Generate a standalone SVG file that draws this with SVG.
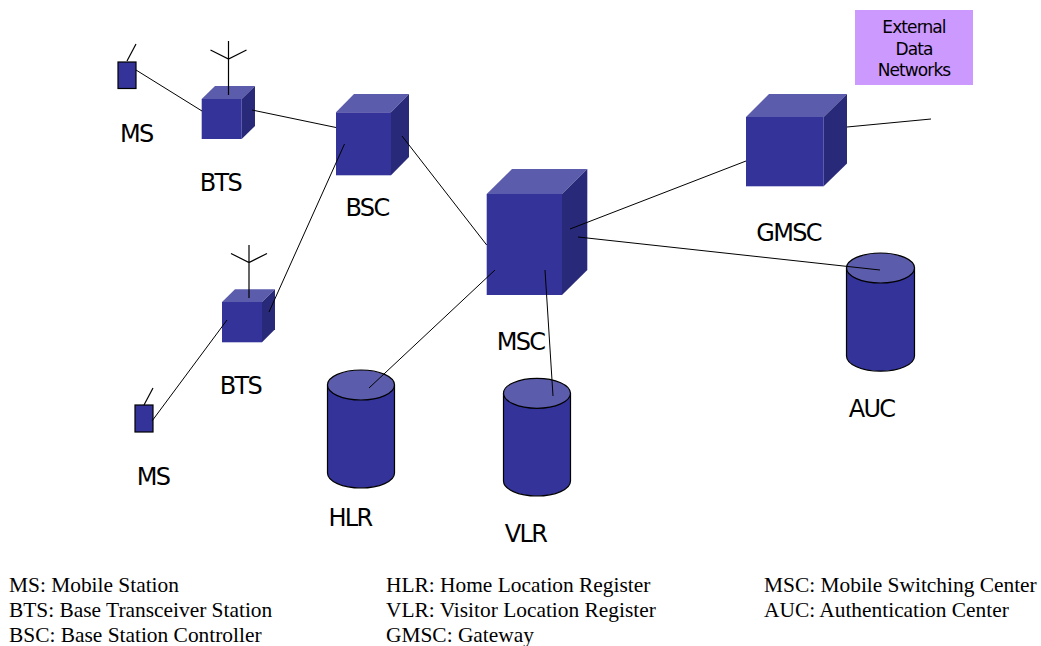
<svg xmlns="http://www.w3.org/2000/svg" width="1041" height="646" viewBox="0 0 1041 646">
<style>
.f{fill:#333399}.t{fill:#5c5cad}.s{fill:#29297a}
.a{fill:none;stroke:#000;stroke-width:1.2}
.c{fill:#333399;stroke:#000;stroke-width:1.2}
.e{fill:#5c5cad;stroke:#000;stroke-width:1.2}
.l{font-family:"DejaVu Sans",sans-serif;font-size:24px;fill:#000;text-anchor:middle;letter-spacing:-1.7px}
.x{font-family:"DejaVu Sans",sans-serif;font-size:17px;fill:#000;text-anchor:middle;letter-spacing:-0.9px}
.k{font-family:"Liberation Serif",serif;font-size:21.400px;fill:#000}
</style>
<rect width="1041" height="646" fill="#fff"/>
<g id="ext"><rect x="855" y="10" width="118" height="75" fill="#cc99ff"/>
<text class="x" x="914" y="32.500">External</text><text class="x" x="914" y="54.500">Data</text><text class="x" x="914" y="75.500">Networks</text></g>
<g id="ms1"><rect class="c" x="118" y="62" width="18" height="26.500"/><path class="a" d="M127 61L136 44"/><text class="l" x="136.300" y="141.500">MS</text></g>
<g id="ms2"><rect class="c" x="135" y="405" width="18" height="27"/><path class="a" d="M144 405L153 388"/><text class="l" x="153" y="485">MS</text></g>
<g id="bts1"><path class="t" d="M201.700 99L215 86H255L241.700 99Z"/><path class="s" d="M241.700 99L255 86V126L241.700 139Z"/><rect class="f" x="201.700" y="99" width="40" height="40"/><path class="a" d="M228.500 95V41M210.500 50L228.500 59L246.500 50"/><text class="l" x="220.500" y="191">BTS</text></g>
<g id="bts2"><path class="t" d="M222 302L235 289.300H275L262 302Z"/><path class="s" d="M262 302L275 289.300V329.300L262 342.300Z"/><rect class="f" x="222" y="302" width="40" height="40.300"/><path class="a" d="M249 298V245M231 253.500L249 262.500L267 253.500"/><text class="l" x="240.500" y="394">BTS</text></g>
<g id="bsc"><path class="t" d="M336 112.300L354 94H409L391 112.300Z"/><path class="s" d="M391 112.300L409 94V157L391 175.300Z"/><rect class="f" x="336" y="112.300" width="55" height="63"/><text class="l" x="367" y="216">BSC</text></g>
<g id="msc"><path class="t" d="M486.700 194L512 169H587.300L562 194Z"/><path class="s" d="M562 194L587.300 169V270L562 295Z"/><rect class="f" x="486.700" y="194" width="75.300" height="101"/><text class="l" x="520.500" y="350">MSC</text></g>
<g id="gmsc"><path class="t" d="M746 117L769 94H847L823.700 117Z"/><path class="s" d="M823.700 117L847 94V163.500L823.700 186.300Z"/><rect class="f" x="746" y="117" width="77.700" height="69.300"/><text class="l" x="788.500" y="241">GMSC</text></g>
<g id="hlr"><path class="c" d="M327.500 385V473A33.500 15 0 0 0 394.500 473V385Z"/><ellipse class="e" cx="361" cy="385" rx="33.500" ry="15"/><text class="l" x="350" y="526">HLR</text></g>
<g id="vlr"><path class="c" d="M503.500 393.300V481A33.500 15 0 0 0 570.500 481V393.300Z"/><ellipse class="e" cx="537" cy="393.300" rx="33.500" ry="15"/><text class="l" x="525.500" y="542">VLR</text></g>
<g id="auc"><path class="c" d="M846.500 268V356A33.500 15 0 0 0 914.500 356V268Z"/><ellipse class="e" cx="880.500" cy="268" rx="34" ry="15"/><text class="l" x="871.500" y="417">AUC</text></g>
<g id="connectors" fill="none" stroke="#000" stroke-width="1">
<path d="M136 70L202 111"/><path d="M252 110L336 127.500"/><path d="M344.500 144L269 312"/><path d="M227 320L152 421"/><path d="M402 136L486.700 245"/><path d="M495 270L369 388"/><path d="M545 270L553 396"/><path d="M570 229L746 161"/><path d="M578 237L880 270"/><path d="M847 127L931 119"/>
</g>
<g id="legend">
<text class="k" x="9" y="592">MS: Mobile Station</text><text class="k" x="9" y="617">BTS: Base Transceiver Station</text><text class="k" x="9" y="642">BSC: Base Station Controller</text>
<text class="k" x="386" y="592">HLR: Home Location Register</text><text class="k" x="386" y="617">VLR: Visitor Location Register</text><text class="k" x="386" y="642">GMSC: Gateway</text>
<text class="k" x="764" y="592">MSC: Mobile Switching Center</text><text class="k" x="764" y="617">AUC: Authentication Center</text>
</g>
</svg>
